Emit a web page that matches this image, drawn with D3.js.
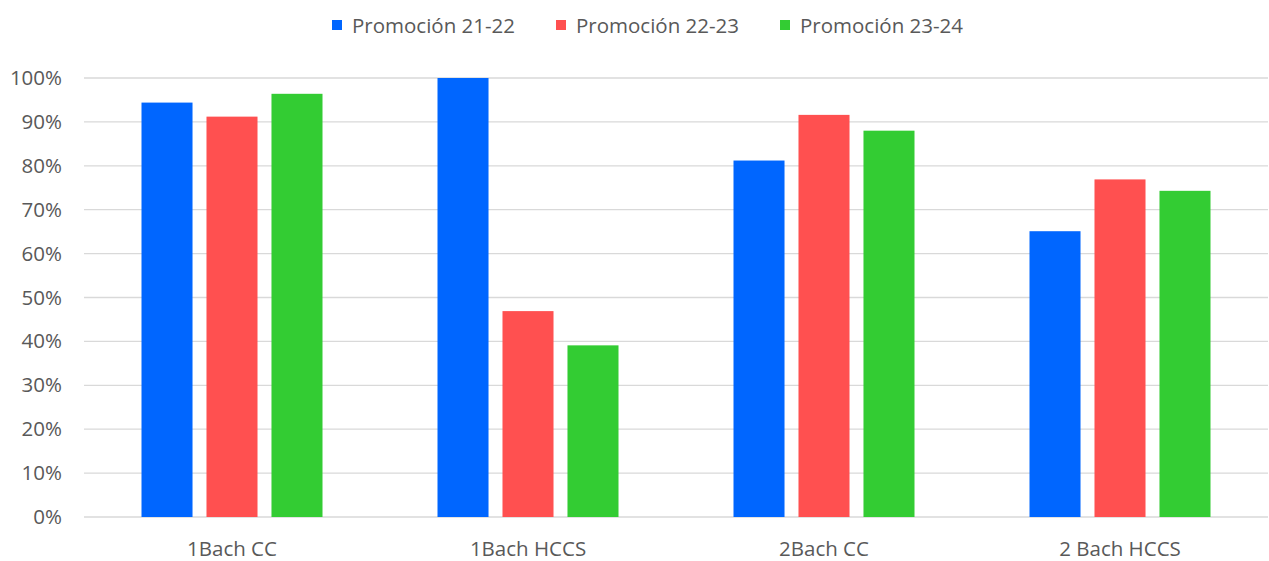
<!DOCTYPE html>
<html>
<head>
<meta charset="utf-8">
<script src="https://cdn.jsdelivr.net/npm/d3@7"></script>
<style>
  body { margin: 0; background: #fff; }
  svg text { font-family: "Open Sans", sans-serif; fill: #595959; }
</style>
</head>
<body>
<svg id="chart" width="1269" height="561"></svg>
<script>
// chart data
var categories = ["1Bach CC", "1Bach HCCS", "2Bach CC", "2 Bach HCCS"];
var seriesNames = ["Promoción 21-22", "Promoción 22-23", "Promoción 23-24"];
var promo2122 = [0.944, 1.0, 0.812, 0.651];
var promo2223 = [0.912, 0.469, 0.916, 0.769];
var promo2324 = [0.964, 0.391, 0.880, 0.743];
var yTicks = [0, 0.1, 0.2, 0.3, 0.4, 0.5, 0.6, 0.7, 0.8, 0.9, 1.0];
var colors = ["#0066ff", "#ff5050", "#33cc33"];

var seriesValues = [promo2122, promo2223, promo2324];

var svg = d3.select("#chart");
var margin = {top: 78, right: 1, bottom: 44, left: 84};
var width = 1269 - margin.left - margin.right;
var height = 561 - margin.top - margin.bottom;

var g = svg.append("g")
  .attr("transform", "translate(" + margin.left + "," + margin.top + ")");

var x0 = d3.scaleBand().domain(categories).range([0, width]).paddingInner(0).paddingOuter(0);
var x1 = d3.scaleBand().domain(seriesNames).range([57.5, x0.bandwidth() - 57.5]).paddingInner(0.215).paddingOuter(0);
var y = d3.scaleLinear().domain([0, 1]).range([height, 0]);

// gridlines
g.append("g")
  .selectAll("line")
  .data(yTicks)
  .enter().append("line")
    .attr("x1", 0)
    .attr("x2", width)
    .attr("y1", function(d){ return y(d); })
    .attr("y2", function(d){ return y(d); })
    .attr("stroke", "#d9d9d9")
    .attr("stroke-width", 1.3);

// y axis labels
var yAxis = d3.axisLeft(y).tickValues(yTicks).tickFormat(d3.format(".0%")).tickSize(0).tickPadding(22);
g.append("g").call(yAxis)
  .call(function(a){ a.select(".domain").remove(); })
  .selectAll("text")
    .attr("font-size", "20.5px")
    .attr("font-family", "Open Sans")
    .attr("fill", "#595959");

// x axis labels
var xAxis = d3.axisBottom(x0).tickSize(0).tickPadding(24);
g.append("g")
  .attr("transform", "translate(0," + height + ")")
  .call(xAxis)
  .call(function(a){ a.select(".domain").remove(); })
  .selectAll("text")
    .attr("font-size", "20.5px")
    .attr("font-family", "Open Sans")
    .attr("fill", "#595959");

// bars
var groups = g.selectAll(".cat")
  .data(categories)
  .enter().append("g")
    .attr("class", "cat")
    .attr("transform", function(d){ return "translate(" + x0(d) + ",0)"; });

groups.selectAll("rect")
  .data(function(d, ci){
    return seriesNames.map(function(s, si){ return {s: s, i: si, v: seriesValues[si][ci]}; });
  })
  .enter().append("rect")
    .attr("x", function(d){ return x1(d.s); })
    .attr("width", x1.bandwidth())
    .attr("y", function(d){ return y(d.v); })
    .attr("height", function(d){ return height - y(d.v); })
    .attr("fill", function(d){ return colors[d.i]; });

// legend
var legendX = [332, 556, 780];
var legend = svg.append("g").attr("class", "legend");
seriesNames.forEach(function(s, i){
  var item = legend.append("g").attr("transform", "translate(" + legendX[i] + ",25)");
  item.append("rect")
    .attr("x", 0).attr("y", -5)
    .attr("width", 10).attr("height", 10)
    .attr("fill", colors[i]);
  item.append("text")
    .attr("x", 20)
    .attr("y", 0)
    .attr("dominant-baseline", "central")
    .attr("font-size", "20.5px")
    .text(s);
});
</script>
</body>
</html>
